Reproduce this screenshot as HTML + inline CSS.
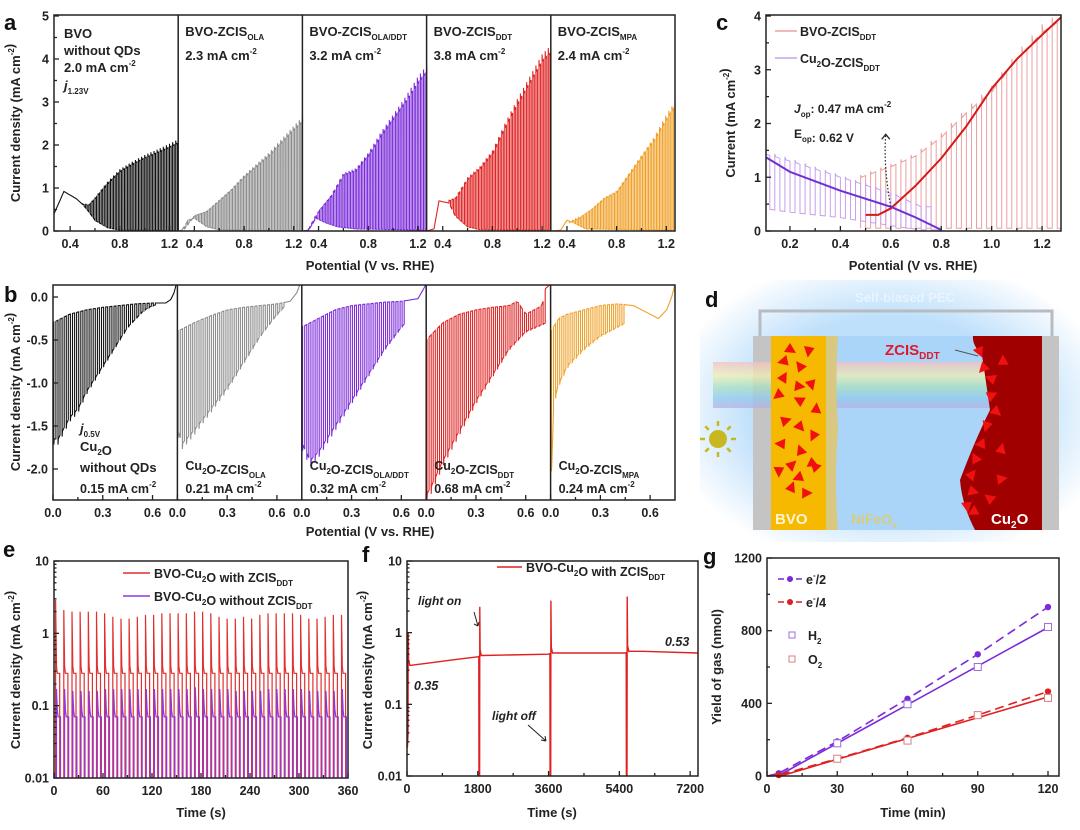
<!DOCTYPE html>
<html><head><meta charset="utf-8">
<style>
html,body{margin:0;padding:0;background:#fff;}
svg{display:block;font-family:"Liberation Sans",Arial,sans-serif;font-weight:bold;}
</style></head>
<body>
<svg id="fig" width="1080" height="830" viewBox="0 0 1080 830" xmlns="http://www.w3.org/2000/svg">
<defs>
<radialGradient id="glow" cx="0.5" cy="0.5" r="0.6">
<stop offset="0.6" stop-color="#bfe0fb"/><stop offset="1" stop-color="#ffffff"/></radialGradient>
<linearGradient id="rainbow" x1="0" y1="0" x2="0" y2="1">
<stop offset="0" stop-color="#f5c0c0"/><stop offset="0.3" stop-color="#f0f0b0"/><stop offset="0.55" stop-color="#a8e0c0"/><stop offset="0.8" stop-color="#90c8f0"/><stop offset="1" stop-color="#b8b0e0"/></linearGradient>
</defs>
<g id="root"></g>
</svg>
<script>
// ---------- DATA ----------
// panel a (anodic LSV, chopped): potentials and envelopes
const aNames=["BVO","BVO-ZCIS_OLA","BVO-ZCIS_OLA/DDT","BVO-ZCIS_DDT","BVO-ZCIS_MPA"];
const aColors=["#111111","#8c8c8c","#7a2ad8","#e02424","#f0a028"];
const aChopStart=[0.50,0.32,0.32,0.45,0.42];
const aLightV=[[0.50,0.55,0.6,0.7,0.8,0.9,1.0,1.1,1.2,1.27],[0.32,0.4,0.5,0.6,0.7,0.8,0.9,1.0,1.1,1.2,1.27],[0.32,0.4,0.5,0.6,0.7,0.8,0.9,1.0,1.1,1.2,1.27],[0.45,0.5,0.6,0.7,0.8,0.9,1.0,1.1,1.2,1.27],[0.42,0.5,0.6,0.7,0.8,0.9,1.0,1.1,1.2,1.27]];
const aLightJ=[[0.62,0.6,0.75,1.1,1.38,1.55,1.7,1.82,1.95,2.05],[0.05,0.35,0.45,0.7,0.95,1.25,1.5,1.75,2.05,2.35,2.55],[0.05,0.45,0.8,1.3,1.4,1.75,2.2,2.6,3.0,3.45,3.7],[0.7,0.75,1.2,1.45,1.8,2.4,2.95,3.45,3.95,4.15],[0.2,0.3,0.5,0.75,0.9,1.3,1.7,2.1,2.6,2.9]];
const aDarkV=[[0.27,0.35,0.45,0.5,0.55,0.6,0.7,0.8,1.27],[0.27,0.3,0.35,0.4,0.45,0.5,0.6,1.27],[0.27,0.32,0.38,0.45,0.55,0.7,1.27],[0.27,0.33,0.37,0.45,0.5,0.6,0.7,1.27],[0.27,0.35,0.4,0.45,0.55,1.27]];
const aDarkJ=[[0.4,0.92,0.75,0.62,0.45,0.25,0.08,0.02,0.01],[0,0.02,0.25,0.3,0.2,0.1,0.03,0],[0,0.02,0.3,0.2,0.1,0.05,0.02],[0,0.05,0.7,0.65,0.35,0.1,0.03,0.02],[0,0.02,0.25,0.2,0.05,0.02]];
const aValues=["2.0","2.3","3.2","3.8","2.4"];
const aTicks=[0.4,0.8,1.2];
const aYTicks=[0,1,2,3,4,5];
// panel b (cathodic, chopped)
const bColors=["#111111","#8c8c8c","#7a2ad8","#e02424","#f0a028"];
const bChopEnd=[0.62,0.65,0.62,0.72,0.45];
const bLightV=[[0,0.03,0.1,0.15,0.2,0.25,0.3,0.35,0.4,0.45,0.5,0.55,0.6,0.65],[0,0.03,0.1,0.2,0.3,0.4,0.5,0.6,0.65],[0,0.05,0.1,0.2,0.3,0.4,0.5,0.6,0.65],[0,0.03,0.1,0.2,0.3,0.4,0.5,0.6,0.72],[0,0.02,0.05,0.1,0.2,0.3,0.4,0.45]];
const bLightJ=[[-1.65,-1.65,-1.4,-1.3,-1.1,-0.95,-0.8,-0.65,-0.5,-0.35,-0.25,-0.15,-0.1,-0.08],[-1.55,-1.7,-1.55,-1.3,-1.05,-0.75,-0.45,-0.2,-0.1],[-1.7,-1.9,-1.8,-1.5,-1.2,-0.9,-0.6,-0.35,-0.25],[-2.3,-2.2,-1.9,-1.55,-1.2,-0.9,-0.6,-0.4,-0.3],[-2.2,-1.2,-1.0,-0.8,-0.6,-0.45,-0.35,-0.3]];
const bDarkV=[[0,0.05,0.1,0.2,0.3,0.4,0.5,0.6,0.68,0.71,0.73,0.75],[0,0.1,0.2,0.3,0.4,0.5,0.6,0.68,0.72,0.75],[0,0.1,0.2,0.3,0.4,0.5,0.6,0.7,0.73,0.75],[0,0.1,0.2,0.3,0.4,0.5,0.55,0.6,0.65,0.7,0.72,0.75],[0,0.05,0.1,0.2,0.3,0.4,0.5,0.6,0.65,0.7,0.73,0.75]];
const bDarkJ=[[-0.3,-0.25,-0.2,-0.15,-0.12,-0.1,-0.08,-0.07,-0.07,-0.03,0.05,0.2],[-0.4,-0.3,-0.22,-0.15,-0.12,-0.1,-0.08,-0.05,0.05,0.2],[-0.35,-0.25,-0.15,-0.1,-0.08,-0.06,-0.05,-0.02,0.08,0.15],[-0.5,-0.3,-0.2,-0.15,-0.12,-0.1,-0.05,-0.2,-0.15,-0.1,0.1,0.15],[-0.4,-0.25,-0.2,-0.15,-0.1,-0.08,-0.1,-0.2,-0.25,-0.15,0.0,0.15]];
const bValues=["0.15","0.21","0.32","0.68","0.24"];
const bTicks=[0,0.3,0.6];
const bYTicks=[0,-0.5,-1.0,-1.5,-2.0];
// panel c
const cRedV=[0.48,0.6,0.7,0.8,0.9,1.0,1.1,1.2,1.3,1.36];
const cRedLight=[1.0,1.2,1.4,1.75,2.2,2.6,3.2,3.7,4.0,4.0];
const cRedDark=[0.05,0.05,0.05,0.05,0.05,0.05,0.05,0.05,0.05,0.05];
const cPurV=[0.05,0.2,0.4,0.6,0.72];
const cPurLight=[1.5,1.3,1.0,0.7,0.45];
const cPurDark=[0.45,0.35,0.25,0.1,0.02];
const cRedFitV=[0.5,0.55,0.6,0.7,0.8,0.9,1.0,1.1,1.2,1.28];
const cRedFitJ=[0.3,0.3,0.42,0.85,1.35,1.95,2.65,3.2,3.65,4.0];
const cPurFitV=[0.05,0.2,0.4,0.6,0.7,0.8];
const cPurFitJ=[1.53,1.1,0.75,0.45,0.25,0.02];
const cXTicks=[0.2,0.4,0.6,0.8,1.0,1.2];
const cYTicks=[0,1,2,3,4];
// panel e (log scale, 10 s chopping)
const eRedSpikes=[2.9,2.1,2.0,2.0,2.0,2.0,1.9,1.7,1.6,1.6,1.7,1.8,1.8,1.9,1.9,1.9,1.9,2.0,2.0,1.9,1.7,1.6,1.6,1.7,1.6,1.8,1.9,1.9,1.9,1.9,1.8,1.6,1.6,1.7,1.8,1.8];
const eRedPlateau=0.28;
const ePurSpikes=[0.17,0.17,0.16,0.16,0.16,0.16,0.17,0.17,0.17,0.17,0.17,0.17,0.17,0.17,0.17,0.17,0.17,0.18,0.17,0.17,0.17,0.17,0.16,0.16,0.16,0.16,0.17,0.17,0.17,0.17,0.17,0.16,0.16,0.16,0.16,0.17];
const ePurPlateau=0.07;
const eXTicks=[0,60,120,180,240,300,360];
const logTicks=[0.01,0.1,1,10];
// panel f
const fBaseT=[100,600,1200,1800,1900,3600,3700,5550,5650,6000,7400];
const fBaseJ=[0.35,0.38,0.42,0.46,0.48,0.5,0.52,0.52,0.55,0.55,0.52];
const fEventT=[30,1850,3660,5600];
const fEventSpike=[1.0,2.3,2.8,3.2];
const fEventDip=[0.025,0.006,0.006,0.006];
const fXTicks=[0,1800,3600,5400,7200];
// panel g
const gTime=[0,5,30,60,90,120];
const gE2=[0,15,190,425,670,930];
const gE4=[0,5,95,210,335,465];
const gH2T=[30,60,90,120];
const gH2=[180,395,600,820];
const gO2T=[30,60,90,120];
const gO2=[95,195,335,430];
const gXTicks=[0,30,60,90,120];
const gYTicks=[0,400,800,1200];

// ---------- HELPERS ----------
const NS="http://www.w3.org/2000/svg";
const root=document.getElementById('root');
function mk(tag,attrs,parent){const e=document.createElementNS(NS,tag);for(const k in attrs)e.setAttribute(k,attrs[k]);(parent||root).appendChild(e);return e;}
function lin(d0,d1,r0,r1){return v=>r0+(v-d0)*(r1-r0)/(d1-d0);}
function logs(d0,d1,r0,r1){return v=>r0+(Math.log10(v)-Math.log10(d0))*(r1-r0)/(Math.log10(d1)-Math.log10(d0));}
function interp(xs,ys,x){if(x<=xs[0])return ys[0];for(let i=1;i<xs.length;i++){if(x<=xs[i]){const t=(x-xs[i-1])/(xs[i]-xs[i-1]);return ys[i-1]+t*(ys[i]-ys[i-1]);}}return ys[ys.length-1];}
function txt(x,y,s,size,anchor,parent,name,extra){const t=mk('text',Object.assign({x:x,y:y,'font-size':size,'text-anchor':anchor||'start',fill:'#222'},extra||{}),parent);t.innerHTML=s;return t;}
function pathD(pts){return pts.map((p,i)=>(i?'L':'M')+p[0].toFixed(1)+' '+p[1].toFixed(1)).join('');}
function box(x0,y0,x1,y1,name){const r=mk('rect',{x:x0,y:y0,width:x1-x0,height:y1-y0,fill:'none',stroke:'#222','stroke-width':1.5});}
function xtick(x,y,len,lab,name){const l=mk('line',{x1:x,y1:y,x2:x,y2:y-len,stroke:'#222','stroke-width':1.3});if(lab!==null)txt(x,y+17,lab,12.5,'middle',null,'x-tick-label');}
function ytick(x,y,len,lab,name){const l=mk('line',{x1:x,y1:y,x2:x+len,y2:y,stroke:'#222','stroke-width':1.3});if(lab!==null)txt(x-5,y+4.5,lab,12.5,'end',null,'y-tick-label');}
function sub(main,s){return main+'<tspan font-size="8" dy="4">'+s+'</tspan><tspan dy="-4"></tspan>';}
function sup(main,s){return main+'<tspan font-size="8" dy="-6">'+s+'</tspan><tspan dy="6"></tspan>';}
const MACM='mA cm<tspan font-size="8" dy="-6">-2</tspan><tspan dy="6"></tspan>';
function ytitle(x,y,s,name){const t=txt(x,y,s,13,'middle',null,name||'y-axis-title',{transform:'rotate(-90 '+x+' '+y+')'});return t;}
function letter(x,y,s){txt(x,y,s,22,'start',null,'panel-label-'+s,{fill:'#111'});}

// chopped trace: alternating light/dark half periods
function chopPts(v0,v1,cs,ce,period,lightF,darkF,sx,sy,anodic){
  const pts=[];const step=0.004;
  let v=v0;
  while(v<cs){pts.push([sx(v),sy(darkF(v))]);v+=step;}
  v=cs;
  while(v<ce){
    const on=v, off=Math.min(v+period/2,ce), nxt=Math.min(v+period,ce);
    pts.push([sx(on),sy(darkF(on))]);
    const L=lightF(on);
    pts.push([sx(on),sy(L*1.04)]);
    pts.push([sx(on+period*0.08),sy(L)]);
    pts.push([sx(off),sy(lightF(off))]);
    pts.push([sx(off),sy(darkF(off))]);
    pts.push([sx(nxt),sy(darkF(nxt))]);
    v+=period;
  }
  v=ce;
  while(v<=v1+1e-9){pts.push([sx(v),sy(darkF(v))]);v+=step;}
  return pts;
}

// ---------- PANEL a ----------
(function(){
  const X0=54,X1=675,Y0=15,Y1=231,W=(X1-X0)/5;
  const sy=lin(0,5,Y1,Y0+1);
  for(let i=0;i<5;i++){
    const l=X0+i*W, sx=lin(0.27,1.27,l,l+W);
    const g=mk('g',{});
    const p=mk('path',{d:pathD(chopPts(0.27,1.27,aChopStart[i],1.27,0.025,v=>interp(aLightV[i],aLightJ[i],v),v=>interp(aDarkV[i],aDarkJ[i],v),sx,sy)),fill:'none',stroke:aColors[i],'stroke-width':1.1},g);
    
    aTicks.forEach(t=>xtick(sx(t),Y1,5,t.toFixed(1)));
    [0.6,1.0].forEach(t=>xtick(sx(t),Y1,3,null,'x-minor-tick'));
    if(i>0){const d=mk('line',{x1:l,y1:Y0,x2:l,y2:Y1,stroke:'#222','stroke-width':1.5});}
  }
  box(X0,Y0,X1,Y1,'panel-a-frame');
  aYTicks.forEach(t=>ytick(X0,sy(t),5,String(t)));
  [0.5,1.5,2.5,3.5,4.5].forEach(t=>ytick(X0,sy(t),3,null,'y-minor-tick'));
  txt(64,38,'BVO',13,'start',null,'sample-name');
  txt(64,55,'without QDs',13,'start',null,'sample-name');
  txt(64,72,'2.0 '+MACM,13,'start',null,'current-value');
  txt(64,90,'<tspan font-style="italic">j</tspan><tspan font-size="8" dy="4">1.23V</tspan>',13,'start',null,'j-label');
  const nm=[null,sub('BVO-ZCIS','OLA'),sub('BVO-ZCIS','OLA/DDT'),sub('BVO-ZCIS','DDT'),sub('BVO-ZCIS','MPA')];
  for(let i=1;i<5;i++){const l=X0+i*W;txt(l+7,36,nm[i],13,'start',null,'sample-name');txt(l+7,60,aValues[i]+' '+MACM,13,'start',null,'current-value');}
  ytitle(20,123,'Current density ('+MACM+')');
  txt(370,270,'Potential (V vs. RHE)',13,'middle',null,'x-axis-title');
  letter(4,30,'a');
})();

// ---------- PANEL b ----------
(function(){
  const X0=53,X1=675,Y0=285,Y1=500,W=(X1-X0)/5;
  const sy=lin(0,-2,297,469);
  const nm=[null,sub('Cu','2')+sub('O-ZCIS','OLA'),sub('Cu','2')+sub('O-ZCIS','OLA/DDT'),sub('Cu','2')+sub('O-ZCIS','DDT'),sub('Cu','2')+sub('O-ZCIS','MPA')];
  for(let i=0;i<5;i++){
    const l=X0+i*W, sx=lin(0,0.75,l,l+W);
    const g=mk('g',{});
    const p=mk('path',{d:pathD(chopPts(0,0.75,0.005,bChopEnd[i],0.025,v=>interp(bLightV[i],bLightJ[i],v),v=>interp(bDarkV[i],bDarkJ[i],v),sx,v=>Math.max(Y0,Math.min(Y1,sy(v))))),fill:'none',stroke:bColors[i],'stroke-width':1.1},g);
    
    bTicks.forEach(t=>xtick(sx(t),Y1,5,t.toFixed(1)));
    [0.15,0.45].forEach(t=>xtick(sx(t),Y1,3,null,'x-minor-tick'));
    if(i>0){const d=mk('line',{x1:l,y1:Y0,x2:l,y2:Y1,stroke:'#222','stroke-width':1.5});
      txt(l+8,470,nm[i],12.5,'start',null,'sample-name');txt(l+8,493,bValues[i]+' '+MACM,12.5,'start',null,'current-value');}
  }
  box(X0,Y0,X1,Y1,'panel-b-frame');
  bYTicks.forEach(t=>ytick(X0,sy(t),5,t.toFixed(1)));
  txt(80,433,'<tspan font-style="italic">j</tspan><tspan font-size="8" dy="4">0.5V</tspan>',13,'start',null,'j-label');
  txt(80,451,sub('Cu','2')+'O',13,'start',null,'sample-name');
  txt(80,472,'without QDs',13,'start',null,'sample-name');
  txt(80,493,'0.15 '+MACM,12.5,'start',null,'current-value');
  ytitle(20,392,'Current density ('+MACM+')');
  txt(370,536,'Potential (V vs. RHE)',13,'middle',null,'x-axis-title');
  letter(4,302,'b');
})();

// ---------- PANEL c ----------
(function(){
  const X0=766,X1=1061,Y0=15,Y1=231;
  const sx=lin(0.105,1.275,X0,X1), sy=lin(0,4,Y1,Y0+1);
  const cl=v=>Math.max(X0,Math.min(X1,v));
  const cp=mk('clipPath',{id:'clipC'});mk('rect',{x:X0,y:Y0,width:X1-X0,height:Y1-Y0},cp);
  const g=mk('g',{'clip-path':'url(#clipC)'});
  let p=mk('path',{d:pathD(chopPts(cRedV[0],1.36,cRedV[0],1.36,0.04,v=>interp(cRedV,cRedLight,v),v=>interp(cRedV,cRedDark,v),sx,sy)),fill:'none',stroke:'#eba0a0','stroke-width':1},g);
  
  p=mk('path',{d:pathD(chopPts(0.05,0.8,0.06,0.76,0.04,v=>interp(cPurV,cPurLight,v),v=>interp(cPurV,cPurDark,v),sx,sy)),fill:'none',stroke:'#c8a0ec','stroke-width':1},g);
  
  p=mk('path',{d:pathD(cRedFitV.map((v,i)=>[sx(v),sy(cRedFitJ[i])])),fill:'none',stroke:'#d81818','stroke-width':2},g);
  
  p=mk('path',{d:pathD(cPurFitV.map((v,i)=>[sx(v),sy(cPurFitJ[i])])),fill:'none',stroke:'#7030d0','stroke-width':2},g);
  
  box(X0,Y0,X1,Y1,'panel-c-frame');
  cXTicks.forEach(t=>xtick(sx(t),Y1,5,t.toFixed(1)));
  [0.3,0.5,0.7,0.9,1.1].forEach(t=>xtick(sx(t),Y1,3,null,'x-minor-tick'));
  cYTicks.forEach(t=>ytick(X0,sy(t),5,String(t)));
  [0.5,1.5,2.5,3.5].forEach(t=>ytick(X0,sy(t),3,null,'y-minor-tick'));
  let l=mk('line',{x1:775,y1:31,x2:797,y2:31,stroke:'#eba0a0','stroke-width':1.5});
  txt(800,36,sub('BVO-ZCIS','DDT'),12.5,'start',null,'legend-entry-bvo');
  l=mk('line',{x1:775,y1:58,x2:797,y2:58,stroke:'#c8a0ec','stroke-width':1.5});
  txt(800,63,sub('Cu','2')+sub('O-ZCIS','DDT'),12.5,'start',null,'legend-entry-cu2o');
  txt(794,113,'<tspan font-style="italic">J</tspan><tspan font-size="8" dy="4">op</tspan><tspan dy="-4">: 0.47 '+MACM+'</tspan>',12,'start',null,'jop-annotation');
  txt(794,138,sub('E','op')+': 0.62 V',12,'start',null,'eop-annotation');
  l=mk('path',{d:'M'+sx(0.6)+' '+sy(0.45)+' Q'+sx(0.57)+' '+sy(1.2)+' '+sx(0.58)+' '+sy(1.8),fill:'none',stroke:'#222','stroke-width':1.2,'stroke-dasharray':'1.5 2'});
  l=mk('path',{d:'M'+(sx(0.58)-4)+' '+(sy(1.8)+5)+' L'+sx(0.58)+' '+sy(1.8)+' L'+(sx(0.58)+4)+' '+(sy(1.8)+5),fill:'none',stroke:'#222','stroke-width':1.3});
  ytitle(735,123,'Current (' + MACM + ')');
  txt(913,270,'Potential (V vs. RHE)',13,'middle',null,'x-axis-title');
  letter(716,30,'c');
})();

// ---------- PANEL d (schematic) ----------
(function(){
  const g=mk('g',{});
  let e=mk('rect',{x:700,y:280,width:380,height:262,fill:'url(#glow)'},g);
  txt(905,302,'Self-biased PEC',13,'middle',g,'schematic-title',{fill:'#e8f4ff'});
  e=mk('path',{d:'M760 338 V311 H1052 V338',fill:'none',stroke:'#b8bcc0','stroke-width':3},g);
  e=mk('rect',{x:753,y:336,width:306,height:194,fill:'#aad4f8',stroke:'#bbbbbb','stroke-width':0},g);
  e=mk('rect',{x:753,y:336,width:18,height:194,fill:'#c4c4c4'},g);
  e=mk('rect',{x:1042,y:336,width:17,height:194,fill:'#c4c4c4'},g);
  e=mk('rect',{x:713,y:362,width:280,height:46,fill:'url(#rainbow)',opacity:0.75},g);
  e=mk('rect',{x:771,y:336,width:55,height:194,fill:'#f7b800'},g);
  e=mk('path',{d:'M826 336 L838 336 Q835 380 838 430 Q834 480 838 530 L826 530 Z',fill:'#d8c880'},g);
  e=mk('path',{d:'M973 336 L1042 336 L1042 530 L975 530 Q962 505 960 480 Q975 440 990 410 Q985 375 982 355 Q972 345 973 336 Z',fill:'#a00000'},g);
  const tri=[[790,348],[810,350],[785,362],[800,368],[782,378],[798,385],[812,383],[780,395],[800,402],[815,410],[784,420],[800,425],[815,435],[782,445],[800,452],[790,465],[812,462],[780,470],[800,478],[815,468],[790,488],[805,492],[980,350],[985,368],[992,380],[1002,362],[990,395],[996,410],[988,425],[982,445],[975,460],[970,475],[972,490],[968,505],[975,512],[990,500],[1000,450],[1000,478]];
  tri.forEach(([x,y],i)=>{const t=mk('path',{d:'M'+x+' '+(y-5)+' L'+(x+6)+' '+(y+5)+' L'+(x-6)+' '+(y+4)+' Z',fill:'#f01010',transform:'rotate('+((i*67)%360)+' '+x+' '+y+')'},g);});
  e=mk('circle',{cx:718,cy:439,r:9,fill:'#c8b820'},g);
  for(let k=0;k<8;k++){const a=k*Math.PI/4;const r=mk('line',{x1:718+13*Math.cos(a),y1:439+13*Math.sin(a),x2:718+18*Math.cos(a),y2:439+18*Math.sin(a),stroke:'#c8b820','stroke-width':2.5},g);}
  txt(885,355,'ZCIS<tspan font-size="10" dy="4">DDT</tspan>',15,'start',g,'zcis-label',{fill:'#e01830'});
  e=mk('line',{x1:955,y1:350,x2:978,y2:356,stroke:'#555','stroke-width':1},g);
  txt(775,524,'BVO',15,'start',g,'bvo-label',{fill:'#fff6d0'});
  txt(851,524,'NiFeO<tspan font-size="9" dy="4">x</tspan>',14,'start',g,'nifeox-label',{fill:'#d8cc80'});
  txt(991,524,'Cu<tspan font-size="10" dy="4">2</tspan><tspan dy="-4">O</tspan>',15,'start',g,'cu2o-label',{fill:'#ffffff'});
  letter(705,307,'d');
})();

// ---------- PANEL e ----------
(function(){
  const X0=54,X1=348,Y0=561,Y1=778;
  const sx=lin(0,360,X0,X1), sy=logs(0.01,10,Y1,Y0);
  const cp=mk('clipPath',{id:'clipE'});mk('rect',{x:X0,y:Y0,width:X1-X0,height:Y1-Y0},cp);
  function trace(spikes,plat,col,name,off){
    const pts=[[sx(0),sy(0.012)]];
    spikes.forEach((s,i)=>{const t=i*10+off;
      pts.push([sx(t),sy(0.01)],[sx(t),sy(s)],[sx(t+1),sy(plat*1.25)],[sx(t+2),sy(plat)],[sx(t+5),sy(plat)],[sx(t+5),sy(0.009)],[sx(t+10),sy(0.009)]);});
    const p=mk('path',{d:pathD(pts),fill:'none',stroke:col,'stroke-width':1.2,'clip-path':'url(#clipE)'});
  }
  trace(eRedSpikes,eRedPlateau,'#e03030','with-zcis-curve',2);
  trace(ePurSpikes,ePurPlateau,'#8a3ae0','without-zcis-curve',3);
  box(X0,Y0,X1,Y1,'panel-e-frame');
  eXTicks.forEach(t=>xtick(sx(t),Y1,5,String(t)));
  [30,90,150,210,270,330].forEach(t=>xtick(sx(t),Y1,3,null,'x-minor-tick'));
  logTicks.forEach(t=>ytick(X0,sy(t),5,String(t)));
  for(let d=0.01;d<10;d*=10)for(let m=2;m<10;m++)ytick(X0,sy(d*m),2.5,null,'y-minor-tick');
  let l=mk('line',{x1:123,y1:573,x2:150,y2:573,stroke:'#e03030','stroke-width':1.5});
  txt(154,578,sub('BVO-Cu','2')+sub('O with ZCIS','DDT'),12.5,'start',null,'legend-entry-with');
  l=mk('line',{x1:123,y1:596,x2:150,y2:596,stroke:'#8a3ae0','stroke-width':1.5});
  txt(154,601,sub('BVO-Cu','2')+sub('O without ZCIS','DDT'),12.5,'start',null,'legend-entry-without');
  ytitle(20,670,'Current density ('+MACM+')');
  txt(201,817,'Time (s)',13,'middle',null,'x-axis-title');
  letter(3,557,'e');
})();

// ---------- PANEL f ----------
(function(){
  const X0=407,X1=698,Y0=561,Y1=776;
  const sx=lin(0,7400,X0,X1), sy=logs(0.01,10,Y1,Y0);
  const cp=mk('clipPath',{id:'clipF'});mk('rect',{x:X0,y:Y0,width:X1-X0,height:Y1-Y0},cp);
  const pts=[];let bi=0;
  fEventT.forEach((t,k)=>{
    while(bi<fBaseT.length&&fBaseT[bi]<t-20){pts.push([sx(fBaseT[bi]),sy(fBaseJ[bi])]);bi++;}
    const before=interp(fBaseT,fBaseJ,t-20),after=interp(fBaseT,fBaseJ,t+40);
    pts.push([sx(t-25),sy(before)],[sx(t-20),sy(fEventDip[k])],[sx(t-5),sy(fEventDip[k]*1.5)],[sx(t),sy(fEventSpike[k])],[sx(t+10),sy(after*1.2)],[sx(t+40),sy(after)]);
  });
  while(bi<fBaseT.length){if(fBaseT[bi]>fEventT[fEventT.length-1]+40)pts.push([sx(fBaseT[bi]),sy(fBaseJ[bi])]);bi++;}
  const p=mk('path',{d:pathD(pts),fill:'none',stroke:'#e02020','stroke-width':1.4,'clip-path':'url(#clipF)'});
  box(X0,Y0,X1,Y1,'panel-f-frame');
  fXTicks.forEach(t=>xtick(sx(t),Y1,5,String(t)));
  [900,2700,4500,6300].forEach(t=>xtick(sx(t),Y1,3,null,'x-minor-tick'));
  logTicks.forEach(t=>ytick(X0,sy(t),5,String(t)));
  for(let d=0.01;d<10;d*=10)for(let m=2;m<10;m++)ytick(X0,sy(d*m),2.5,null,'y-minor-tick');
  let l=mk('line',{x1:497,y1:567,x2:522,y2:567,stroke:'#e02020','stroke-width':1.5});
  txt(526,572,sub('BVO-Cu','2')+sub('O with ZCIS','DDT'),12.5,'start',null,'legend-entry');
  txt(418,605,'light on',12,'start',null,'light-on-label',{'font-style':'italic'});
  txt(492,720,'light off',12,'start',null,'light-off-label',{'font-style':'italic'});
  l=mk('path',{d:'M474 612 L478 626 M478 626 L474 624 M478 626 L479 622',fill:'none',stroke:'#222','stroke-width':1});
  l=mk('path',{d:'M528 725 L546 741 M546 741 L541 740 M546 741 L545 736',fill:'none',stroke:'#222','stroke-width':1});
  txt(414,690,'0.35',12.5,'start',null,'start-value',{'font-style':'italic'});
  txt(665,646,'0.53',12.5,'start',null,'end-value',{'font-style':'italic'});
  ytitle(372,670,'Current density ('+MACM+')');
  txt(552,817,'Time (s)',13,'middle',null,'x-axis-title');
  letter(362,562,'f');
})();

// ---------- PANEL g ----------
(function(){
  const X0=767,X1=1059,Y0=558,Y1=776;
  const sx=lin(0,124.7,X0,X1), sy=lin(0,1200,Y1,Y0);
  function fit(T,V){const n=T.length;let mt=0,mv=0;T.forEach((t,i)=>{mt+=t;mv+=V[i];});mt/=n;mv/=n;let a=0,b=0;T.forEach((t,i)=>{a+=(t-mt)*(V[i]-mv);b+=(t-mt)*(t-mt);});const k=a/b;return [k,mv-k*mt];}
  [[gH2T,gH2,'#7a2ad8','h2-fit-line'],[gO2T,gO2,'#e02020','o2-fit-line']].forEach(([T,V,c,n])=>{const [k,b0]=fit(T,V);const t0=Math.max(0,-b0/k);
    const l=mk('line',{x1:sx(t0),y1:sy(k*t0+b0),x2:sx(120),y2:sy(k*120+b0),stroke:c,'stroke-width':1.6});});
  [[gE2,'#7a2ad8','e2-dashed-line'],[gE4,'#e02020','e4-dashed-line']].forEach(([V,c,n])=>{
    const p=mk('path',{d:pathD(gTime.map((t,i)=>[sx(t),sy(V[i])])),fill:'none',stroke:c,'stroke-width':1.6,'stroke-dasharray':'9 5'});
    gTime.forEach((t,i)=>{if(i===0)return;const m=mk('circle',{cx:sx(t),cy:sy(V[i]),r:3.2,fill:c});});
  });
  [[gH2T,gH2,'#9a70d8','h2-marker'],[gO2T,gO2,'#d88080','o2-marker']].forEach(([T,V,c,n])=>{T.forEach((t,i)=>{const r=mk('rect',{x:sx(t)-3.5,y:sy(V[i])-3.5,width:7,height:7,fill:'#fff',stroke:c,'stroke-width':1});});});
  box(X0,Y0,X1,Y1,'panel-g-frame');
  gXTicks.forEach(t=>xtick(sx(t),Y1,5,String(t)));
  [15,45,75,105].forEach(t=>xtick(sx(t),Y1,3,null,'x-minor-tick'));
  gYTicks.forEach(t=>ytick(X0,sy(t),5,String(t)));
  [200,600,1000].forEach(t=>ytick(X0,sy(t),3,null,'y-minor-tick'));
  [[579,'#7a2ad8','e<tspan font-size="8" dy="-6">-</tspan><tspan dy="6">/2</tspan>','legend-entry-e2'],[602,'#e02020','e<tspan font-size="8" dy="-6">-</tspan><tspan dy="6">/4</tspan>','legend-entry-e4']].forEach(([y,c,s,n])=>{
    const l=mk('line',{x1:778,y1:y,x2:803,y2:y,stroke:c,'stroke-width':1.6,'stroke-dasharray':'6 3'});
    const m=mk('circle',{cx:790,cy:y,r:3,fill:c});
    txt(806,y+5,s,12.5,'start',null,n);});
  [[635,'#9a70d8',sub('H','2'),'legend-entry-h2'],[659,'#d88080',sub('O','2'),'legend-entry-o2']].forEach(([y,c,s,n])=>{
    const r=mk('rect',{x:789,y:y-3,width:6,height:6,fill:'#fff',stroke:c,'stroke-width':1});
    txt(808,y+5,s,12.5,'start',null,n);});
  ytitle(721,667,'Yield of gas (nmol)');
  txt(913,817,'Time (min)',13,'middle',null,'x-axis-title');
  letter(703,564,'g');
})();
</script>
</body></html>
